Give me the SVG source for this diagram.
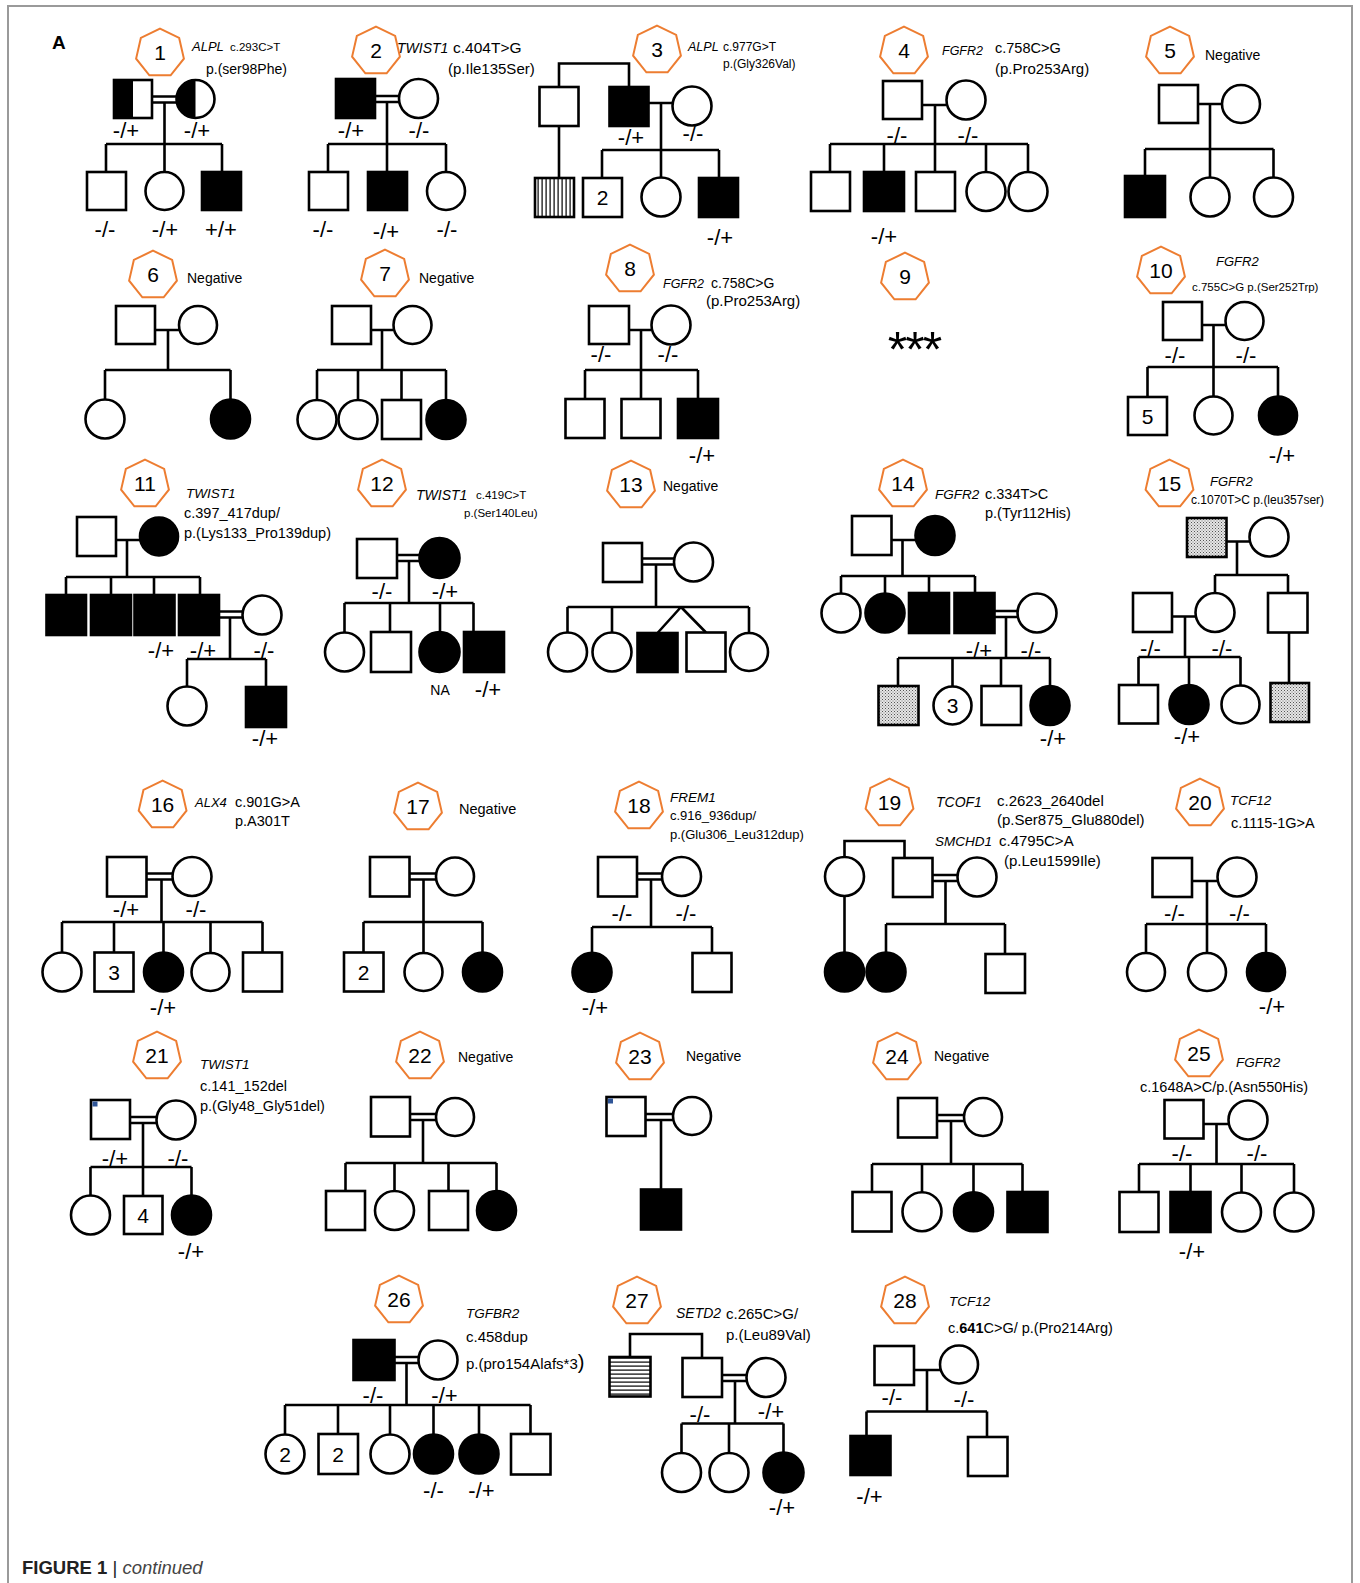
<svg xmlns="http://www.w3.org/2000/svg" width="1360" height="1583" viewBox="0 0 1360 1583">
<defs>
<style>
.ln{fill:none;stroke:#000;stroke-width:2.6}
.u{fill:#fff;stroke:#000;stroke-width:2.6}
.a{fill:#000;stroke:#000;stroke-width:2.6}
.hp{fill:none;stroke:#ED7D31;stroke-width:2}
.fr{fill:none;stroke:#9a9a9a;stroke-width:2}
text{font-family:"Liberation Sans",Arial,sans-serif;fill:#000}
.n{font-size:21px;text-anchor:middle}
.gt{font-size:22px;text-anchor:middle}
.m{font-size:14.5px}
.s{font-size:12px}
.g{font-size:13.5px;font-style:italic}
</style>
<polygon id="hep" class="hp" points="0,-24.5 19.15,-15.28 23.89,5.45 10.63,22.07 -10.63,22.07 -23.89,5.45 -19.15,-15.28"/>
<pattern id="vs" width="4" height="4" patternUnits="userSpaceOnUse"><rect width="4" height="4" fill="#fff"/><rect x="1.5" y="0" width="1.2" height="4" fill="#000"/></pattern>
<pattern id="hs" width="4" height="4" patternUnits="userSpaceOnUse"><rect width="4" height="4" fill="#fff"/><rect x="0" y="1.5" width="4" height="1.2" fill="#000"/></pattern>
<pattern id="dt" width="3" height="3" patternUnits="userSpaceOnUse"><rect width="3" height="3" fill="#e6e6e6"/><rect x="0" y="0" width="1" height="1" fill="#555"/><rect x="1.5" y="1.5" width="1" height="1" fill="#777"/></pattern>
</defs>
<rect width="1360" height="1583" fill="#fff"/>
<path class="fr" d="M8,1583V6H1352V1583"/>
<text x="52" y="49" style="font-size:19px;font-weight:bold">A</text>
<text x="22" y="1574" style="font-size:18.5px;fill:#222"><tspan font-weight="bold">FIGURE 1</tspan> | <tspan font-style="italic" fill="#444">continued</tspan></text>

<g id="connectors" class="ln">
<path d="M152,96.5H177M152,102.5H177M164.5,102.5V172M106,144H222M106,144V172M222,144V172"/>
<path d="M375,96H399M375,102H399M387,102V172M328,144H446M328,144V172M446,144V172"/>
<path d="M559,87V63.5H629V87M559,126V178M648.5,103H672.5M661,103V177.5M602,150H719M602,150V178M719,150V178"/>
<path d="M922,105H946.5M935,105V172M830,144H1028M830,144V172M884,144V172M986,144V172M1028,144V172"/>
<path d="M1198,104H1222M1210,104V177M1145,149H1273.5M1145,149V176M1273.5,149V177"/>
<path d="M155,330H179M168,330V370M105,370H230.5M105,370V399.5M230.5,370V399.5"/>
<path d="M371,330H393.5M382,330V370M317,370H446M317,370V400M358,370V400M401.5,370V400M446,370V400"/>
<path d="M629,330H651.5M641,330V399M585,370H698M585,370V399M698,370V399"/>
<path d="M1202,325H1225.5M1213.5,325V396M1147.5,367H1278M1147.5,367V397M1278,367V396"/>
<path d="M116,540H140M127,540V577M66,577H200M66,577V595M111,577V595M154,577V595M200,577V595M219,611.5H243M219,617.5H243M230,617.5V659M187,659H266M187,659V686.5M266,659V687"/>
<path d="M397,555H419.5M397,561H419.5M409,561V603M344.5,603H473.5M344.5,603V632.5M390,603V632M440,603V632M473.5,603V632"/>
<path d="M642,558.5H674M642,564.5H674M656,564.5V607M567.5,607H749M567.5,607V633M612,607V633M681,607L657.5,633M681,607L706,632.5M749,607V633"/>
<path d="M891.5,540H915.5M902.5,540V576M841,576H975M841,576V593.5M885,576V593.5M929,576V593M975,576V593M994.5,611H1018M994.5,617H1018M1006,617V658M898,658H1050M898,658V686M952.5,658V686M1001,658V686M1050,658V686"/>
<path d="M1226.5,541.5H1249.5M1237,541.5V575M1215,575H1288M1215,575V593M1288,575V593M1172,616.5H1195.5M1185,616.5V657M1138.5,657H1240.5M1138.5,657V685M1189,657V685M1240.5,657V685.5M1289,632.5V683"/>
<path d="M146.5,873.5H172.5M146.5,879.5H172.5M161.5,879.5V922M62,922H262.5M62,922V952.5M114,922V952.5M163.5,922V952.5M210.5,922V953M262.5,922V952.5"/>
<path d="M409.5,873.5H436M409.5,879.5H436M423.5,879.5V953M363.5,922H482.5M363.5,922V952.5M482.5,922V952.5"/>
<path d="M637,873.5H662M637,879.5H662M651,879.5V927M592,927H712M592,927V952.5M712,927V953"/>
<path d="M844.5,857V841H904.5V858M844.5,896.5V952.5M932.5,875H957.5M932.5,881H957.5M945.5,881V924M886,924H1005M886,924V952.5M1005,924V954"/>
<path d="M1192,881H1217.5M1207,881V953M1146,924H1266M1146,924V953M1266,924V953"/>
<path d="M130,1117H156.5M130,1123H156.5M143,1123V1196M90.5,1167H191.5M90.5,1167V1195.5M191.5,1167V1195.5"/>
<path d="M410,1114H436M410,1120H436M423,1120V1163M345.5,1163H496.5M345.5,1163V1191M394.5,1163V1191M448.5,1163V1191M496.5,1163V1191"/>
<path d="M645.5,1114H673M645.5,1120H673M661,1120V1189.5"/>
<path d="M937,1115H964M937,1121H964M951,1121V1164M872,1164H1022.5M872,1164V1192M922,1164V1192M973.5,1164V1192M1022.5,1164V1192"/>
<path d="M1203.5,1124H1228.5M1216.5,1124V1164M1139,1164H1294M1139,1164V1192M1190.5,1164V1192M1241.5,1164V1192.5M1294,1164V1192.5"/>
<path d="M394.5,1357H418.5M394.5,1363H418.5M406.5,1363V1405M285,1405H530.5M285,1405V1434.5M338,1405V1434M390,1405V1434.5M433.5,1405V1434.5M479,1405V1434.5M530.5,1405V1434"/>
<path d="M630,1357V1334H702V1358M722,1375H746.5M722,1381H746.5M735,1381V1423.5M681.5,1423.5H783.5M681.5,1423.5V1453M729,1423.5V1453M783.5,1423.5V1452.5"/>
<path d="M914,1370H940M927,1370V1411.5M866.5,1411.5H987M866.5,1411.5V1436M987,1411.5V1437"/>
</g>

<g id="ped1">
<g id="p1-id"><use href="#hep" x="160" y="53.2"/><text class="n" x="160" y="59.5">1</text><text class="g" x="192" y="51" style="font-size:13px">ALPL</text><text x="230" y="51" style="font-size:11.5px">c.293C&gt;T</text><text x="206" y="74" style="font-size:14px">p.(ser98Phe)</text></g>
<g id="p1-f"><rect class="u" x="114" y="80" width="38" height="38"/><rect x="114" y="80" width="19" height="38" fill="#000"/><text class="gt" x="126" y="138">-/+</text></g>
<g id="p1-m"><circle class="u" cx="195.5" cy="99" r="19"/><path d="M195.5,80A19,19 0 0 0 195.5,118Z" fill="#000"/><text class="gt" x="197" y="138">-/+</text></g>
<g id="p1-c1"><rect class="u" x="87" y="172" width="39" height="38"/><text class="gt" x="105" y="237">-/-</text></g>
<g id="p1-c2"><circle class="u" cx="164.5" cy="191" r="19"/><text class="gt" x="165" y="237">-/+</text></g>
<g id="p1-c3"><rect class="a" x="202" y="172" width="39" height="38"/><text class="gt" x="221" y="237">+/+</text></g>
</g>

<g id="ped2">
<g id="p2-id"><use href="#hep" x="376" y="51.2"/><text class="n" x="376" y="57.5">2</text><text class="g" x="397" y="53" style="font-size:14px">TWIST1</text><text x="453" y="53" style="font-size:15.5px">c.404T&gt;G</text><text x="448" y="74" style="font-size:15px">(p.Ile135Ser)</text></g>
<g id="p2-f"><rect class="a" x="336" y="79" width="39" height="39"/><text class="gt" x="351" y="138">-/+</text></g>
<g id="p2-m"><circle class="u" cx="418.5" cy="98.5" r="19.5"/><text class="gt" x="419" y="138">-/-</text></g>
<g id="p2-c1"><rect class="u" x="309" y="172" width="39" height="38"/><text class="gt" x="323" y="237">-/-</text></g>
<g id="p2-c2"><rect class="a" x="368" y="172" width="39" height="38"/><text class="gt" x="386" y="239">-/+</text></g>
<g id="p2-c3"><circle class="u" cx="446" cy="191" r="19"/><text class="gt" x="447" y="237">-/-</text></g>
</g>

<g id="ped3">
<g id="p3-id"><use href="#hep" x="657" y="50.2"/><text class="n" x="657" y="56.5">3</text><text class="g" x="688" y="51" style="font-size:12.5px">ALPL</text><text class="s" x="723" y="51">c.977G&gt;T</text><text class="s" x="723" y="68">p.(Gly326Val)</text></g>
<g id="p3-u"><rect class="u" x="539.5" y="87" width="39" height="39"/></g>
<g id="p3-f"><rect class="a" x="609.5" y="87" width="39" height="39"/><text class="gt" x="631" y="145">-/+</text></g>
<g id="p3-m"><circle class="u" cx="692" cy="106" r="19.5"/><text class="gt" x="693" y="141">-/-</text></g>
<g id="p3-cousin"><rect x="535" y="178" width="39" height="39" fill="url(#vs)" stroke="#000" stroke-width="2.6"/></g>
<g id="p3-c1"><rect class="u" x="583" y="178" width="39" height="39"/><text class="n" x="602.5" y="205">2</text></g>
<g id="p3-c2"><circle class="u" cx="661" cy="197" r="19.5"/></g>
<g id="p3-c3"><rect class="a" x="699" y="178" width="39" height="39"/><text class="gt" x="720" y="245">-/+</text></g>
</g>

<g id="ped4">
<g id="p4-id"><use href="#hep" x="904" y="51.2"/><text class="n" x="904" y="57.5">4</text><text class="g" x="942" y="55" style="font-size:12.5px">FGFR2</text><text x="995" y="53" style="font-size:14.5px">c.758C&gt;G</text><text x="995" y="74" style="font-size:15px">(p.Pro253Arg)</text></g>
<g id="p4-f"><rect class="u" x="883" y="81" width="39" height="38"/><text class="gt" x="897" y="143">-/-</text></g>
<g id="p4-m"><circle class="u" cx="966" cy="100" r="19.5"/><text class="gt" x="968" y="143">-/-</text></g>
<g id="p4-c1"><rect class="u" x="811" y="172" width="39" height="39"/></g>
<g id="p4-c2"><rect class="a" x="864" y="172" width="40" height="39"/><text class="gt" x="884" y="244">-/+</text></g>
<g id="p4-c3"><rect class="u" x="916" y="172" width="39" height="39"/></g>
<g id="p4-c4"><circle class="u" cx="986" cy="191.5" r="19.5"/></g>
<g id="p4-c5"><circle class="u" cx="1028" cy="191.5" r="19.5"/></g>
</g>

<g id="ped5">
<g id="p5-id"><use href="#hep" x="1170" y="51.2"/><text class="n" x="1170" y="57.5">5</text><text x="1205" y="60" style="font-size:14px">Negative</text></g>
<g id="p5-f"><rect class="u" x="1159" y="85" width="39" height="38"/></g>
<g id="p5-m"><circle class="u" cx="1241" cy="104" r="19"/></g>
<g id="p5-c1"><rect class="a" x="1125" y="176" width="40" height="41"/></g>
<g id="p5-c2"><circle class="u" cx="1210" cy="197" r="19.5"/></g>
<g id="p5-c3"><circle class="u" cx="1273.5" cy="197" r="19.5"/></g>
</g>

<g id="ped6">
<g id="p6-id"><use href="#hep" x="153" y="275.2"/><text class="n" x="153" y="281.5">6</text><text x="187" y="283" style="font-size:14px">Negative</text></g>
<g id="p6-f"><rect class="u" x="116" y="306" width="39" height="38"/></g>
<g id="p6-m"><circle class="u" cx="198" cy="325" r="19"/></g>
<g id="p6-c1"><circle class="u" cx="105" cy="419" r="19.5"/></g>
<g id="p6-c2"><circle class="a" cx="230.5" cy="419" r="19.5"/></g>
</g>

<g id="ped7">
<g id="p7-id"><use href="#hep" x="385" y="274.2"/><text class="n" x="385" y="280.5">7</text><text x="419" y="283" style="font-size:14px">Negative</text></g>
<g id="p7-f"><rect class="u" x="332" y="306" width="39" height="38"/></g>
<g id="p7-m"><circle class="u" cx="412.5" cy="325" r="19"/></g>
<g id="p7-c1"><circle class="u" cx="317" cy="419.5" r="19.5"/></g>
<g id="p7-c2"><circle class="u" cx="358" cy="419.5" r="19.5"/></g>
<g id="p7-c3"><rect class="u" x="382" y="400" width="39" height="39"/></g>
<g id="p7-c4"><circle class="a" cx="446" cy="419.5" r="19.5"/></g>
</g>

<g id="ped8">
<g id="p8-id"><use href="#hep" x="630" y="269.2"/><text class="n" x="630" y="275.5">8</text><text class="g" x="663" y="288" style="font-size:12.5px">FGFR2</text><text x="711" y="288" style="font-size:14px">c.758C&gt;G</text><text x="706" y="306" style="font-size:15px">(p.Pro253Arg)</text></g>
<g id="p8-f"><rect class="u" x="589" y="306" width="40" height="38"/><text class="gt" x="601" y="362">-/-</text></g>
<g id="p8-m"><circle class="u" cx="671" cy="325" r="19.5"/><text class="gt" x="668" y="362">-/-</text></g>
<g id="p8-c1"><rect class="u" x="565.5" y="399" width="39" height="39"/></g>
<g id="p8-c2"><rect class="u" x="621.5" y="399" width="39" height="39"/></g>
<g id="p8-c3"><rect class="a" x="678" y="399" width="40" height="39"/><text class="gt" x="702" y="463">-/+</text></g>
</g>

<g id="ped9">
<g id="p9-id"><use href="#hep" x="905" y="277.2"/><text class="n" x="905" y="283.5">9</text><text x="914" y="367" text-anchor="middle" style="font-size:50px;letter-spacing:-2px">***</text></g>
</g>

<g id="ped10">
<g id="p10-id"><use href="#hep" x="1161" y="271.2"/><text class="n" x="1161" y="277.5">10</text><text class="g" x="1216" y="266" style="font-size:13px">FGFR2</text><text x="1192" y="291" style="font-size:11.5px">c.755C&gt;G p.(Ser252Trp)</text></g>
<g id="p10-f"><rect class="u" x="1163" y="302" width="39" height="38"/><text class="gt" x="1175" y="363">-/-</text></g>
<g id="p10-m"><circle class="u" cx="1244.5" cy="321" r="19"/><text class="gt" x="1246" y="363">-/-</text></g>
<g id="p10-c1"><rect class="u" x="1128" y="397" width="39" height="38"/><text class="n" x="1147.5" y="423.5">5</text></g>
<g id="p10-c2"><circle class="u" cx="1213.5" cy="415.5" r="19"/></g>
<g id="p10-c3"><circle class="a" cx="1278" cy="415.5" r="19"/><text class="gt" x="1282" y="463">-/+</text></g>
</g>

<g id="ped11">
<g id="p11-id"><use href="#hep" x="145" y="484.2"/><text class="n" x="145" y="490.5">11</text><text class="g" x="186" y="498" style="font-size:13.5px">TWIST1</text><text class="m" x="184" y="518">c.397_417dup/</text><text class="m" x="184" y="538">p.(Lys133_Pro139dup)</text></g>
<g id="p11-f"><rect class="u" x="77" y="517" width="39" height="39"/></g>
<g id="p11-m"><circle class="a" cx="159" cy="536.5" r="19"/></g>
<g id="p11-c1"><rect class="a" x="46.5" y="595" width="39.5" height="40"/></g>
<g id="p11-c2"><rect class="a" x="91" y="595" width="40" height="40"/></g>
<g id="p11-c3"><rect class="a" x="134.5" y="595" width="40" height="40"/><text class="gt" x="161" y="658">-/+</text></g>
<g id="p11-c4"><rect class="a" x="179" y="595" width="40" height="40"/><text class="gt" x="203" y="658">-/+</text></g>
<g id="p11-w"><circle class="u" cx="262" cy="615" r="19.5"/><text class="gt" x="264" y="658">-/-</text></g>
<g id="p11-g1"><circle class="u" cx="187" cy="706" r="19.5"/></g>
<g id="p11-g2"><rect class="a" x="246" y="687" width="40" height="40"/><text class="gt" x="265" y="746">-/+</text></g>
</g>

<g id="ped12">
<g id="p12-id"><use href="#hep" x="382" y="484.2"/><text class="n" x="382" y="490.5">12</text><text class="g" x="416" y="500" style="font-size:14px">TWIST1</text><text x="476" y="499" style="font-size:11.5px">c.419C&gt;T</text><text x="464" y="517" style="font-size:11.5px">p.(Ser140Leu)</text></g>
<g id="p12-f"><rect class="u" x="357" y="539" width="40" height="39"/><text class="gt" x="382" y="599">-/-</text></g>
<g id="p12-m"><circle class="a" cx="439.5" cy="558" r="20"/><text class="gt" x="445" y="599">-/+</text></g>
<g id="p12-c1"><circle class="u" cx="344.5" cy="652" r="19.5"/></g>
<g id="p12-c2"><rect class="u" x="371" y="632" width="40" height="40"/></g>
<g id="p12-c3"><circle class="a" cx="439.5" cy="652" r="20"/><text x="440" y="695" text-anchor="middle" style="font-size:14px">NA</text></g>
<g id="p12-c4"><rect class="a" x="464" y="632" width="40" height="40"/><text class="gt" x="488" y="697">-/+</text></g>
</g>

<g id="ped13">
<g id="p13-id"><use href="#hep" x="631" y="485.2"/><text class="n" x="631" y="491.5">13</text><text x="663" y="491" style="font-size:14px">Negative</text></g>
<g id="p13-f"><rect class="u" x="603" y="543" width="39" height="39"/></g>
<g id="p13-m"><circle class="u" cx="693.5" cy="562" r="19.5"/></g>
<g id="p13-c1"><circle class="u" cx="567.5" cy="652" r="19.5"/></g>
<g id="p13-c2"><circle class="u" cx="612" cy="652" r="19.5"/></g>
<g id="p13-c3"><rect class="a" x="637.5" y="633" width="40" height="39"/></g>
<g id="p13-c4"><rect class="u" x="686.5" y="632.5" width="39" height="39"/></g>
<g id="p13-c5"><circle class="u" cx="749" cy="652" r="19"/></g>
</g>

<g id="ped14">
<g id="p14-id"><use href="#hep" x="903" y="484.2"/><text class="n" x="903" y="490.5">14</text><text class="g" x="935" y="499" style="font-size:13.5px">FGFR2</text><text class="m" x="985" y="499">c.334T&gt;C</text><text class="m" x="985" y="518">p.(Tyr112His)</text></g>
<g id="p14-f"><rect class="u" x="852" y="516" width="39.5" height="39"/></g>
<g id="p14-m"><circle class="a" cx="935" cy="535.5" r="19.5"/></g>
<g id="p14-c1"><circle class="u" cx="841" cy="613" r="19.5"/></g>
<g id="p14-c2"><circle class="a" cx="885" cy="613" r="19.5"/></g>
<g id="p14-c3"><rect class="a" x="909" y="593" width="40" height="40"/></g>
<g id="p14-c4"><rect class="a" x="954.5" y="593" width="40" height="40"/><text class="gt" x="979" y="658">-/+</text></g>
<g id="p14-w"><circle class="u" cx="1037" cy="613" r="19.5"/><text class="gt" x="1031" y="658">-/-</text></g>
<g id="p14-g1"><rect x="878.5" y="686" width="40" height="39" fill="url(#dt)" stroke="#000" stroke-width="2.6"/></g>
<g id="p14-g2"><circle class="u" cx="952.5" cy="705.5" r="19"/><text class="n" x="952.5" y="713">3</text></g>
<g id="p14-g3"><rect class="u" x="981.5" y="686" width="39.5" height="39"/></g>
<g id="p14-g4"><circle class="a" cx="1050" cy="705.5" r="19.5"/><text class="gt" x="1053" y="746">-/+</text></g>
</g>

<g id="ped15">
<g id="p15-id"><use href="#hep" x="1169.5" y="484.2"/><text class="n" x="1169.5" y="490.5">15</text><text class="g" x="1210" y="486" style="font-size:13px">FGFR2</text><text class="s" x="1191" y="504">c.1070T&gt;C p.(leu357ser)</text></g>
<g id="p15-f"><rect x="1187" y="518" width="39.5" height="39" fill="url(#dt)" stroke="#000" stroke-width="2.6"/></g>
<g id="p15-m"><circle class="u" cx="1269" cy="537" r="19.5"/></g>
<g id="p15-h"><rect class="u" x="1133" y="593" width="39" height="39"/><text class="gt" x="1150.5" y="656">-/-</text></g>
<g id="p15-c1"><circle class="u" cx="1215" cy="612.5" r="19.5"/><text class="gt" x="1222" y="656">-/-</text></g>
<g id="p15-c2"><rect class="u" x="1268" y="593" width="39.5" height="39.5"/></g>
<g id="p15-g1"><rect class="u" x="1119" y="685" width="39" height="38.5"/></g>
<g id="p15-g2"><circle class="a" cx="1189" cy="704.5" r="19.5"/><text class="gt" x="1187" y="744">-/+</text></g>
<g id="p15-g3"><circle class="u" cx="1240.5" cy="704.5" r="19"/></g>
<g id="p15-g4"><rect x="1270.5" y="683" width="38.5" height="39" fill="url(#dt)" stroke="#000" stroke-width="2.6"/></g>
</g>

<g id="ped16">
<g id="p16-id"><use href="#hep" x="162.6" y="805.2"/><text class="n" x="162.6" y="811.5">16</text><text class="g" x="195" y="807" style="font-size:13px">ALX4</text><text class="m" x="235" y="807">c.901G&gt;A</text><text class="m" x="235" y="826">p.A301T</text></g>
<g id="p16-f"><rect class="u" x="107" y="857" width="39.5" height="39.5"/><text class="gt" x="126" y="917">-/+</text></g>
<g id="p16-m"><circle class="u" cx="192" cy="876.5" r="19.5"/><text class="gt" x="196" y="917">-/-</text></g>
<g id="p16-c1"><circle class="u" cx="62" cy="972" r="19.5"/></g>
<g id="p16-c2"><rect class="u" x="94.5" y="952.5" width="39" height="39"/><text class="n" x="114" y="979.5">3</text></g>
<g id="p16-c3"><circle class="a" cx="163.5" cy="972" r="19.5"/><text class="gt" x="163" y="1015">-/+</text></g>
<g id="p16-c4"><circle class="u" cx="210.5" cy="972" r="19"/></g>
<g id="p16-c5"><rect class="u" x="243" y="952.5" width="39" height="39"/></g>
</g>

<g id="ped17">
<g id="p17-id"><use href="#hep" x="418" y="807.2"/><text class="n" x="418" y="813.5">17</text><text x="459" y="814" style="font-size:14.5px">Negative</text></g>
<g id="p17-f"><rect class="u" x="370" y="857" width="39.5" height="39.5"/></g>
<g id="p17-m"><circle class="u" cx="455" cy="876.5" r="19"/></g>
<g id="p17-c1"><rect class="u" x="344" y="952.5" width="39.5" height="39"/><text class="n" x="363.7" y="979.5">2</text></g>
<g id="p17-c2"><circle class="u" cx="423.5" cy="972" r="19"/></g>
<g id="p17-c3"><circle class="a" cx="482.5" cy="972" r="19.5"/></g>
</g>

<g id="ped18">
<g id="p18-id"><use href="#hep" x="639" y="806.2"/><text class="n" x="639" y="812.5">18</text><text class="g" x="670" y="802">FREM1</text><text x="670" y="820" style="font-size:13px">c.916_936dup/</text><text x="670" y="838.5" style="font-size:13px">p.(Glu306_Leu312dup)</text></g>
<g id="p18-f"><rect class="u" x="598" y="857" width="39" height="39.5"/><text class="gt" x="622" y="921">-/-</text></g>
<g id="p18-m"><circle class="u" cx="681.5" cy="876.5" r="19.5"/><text class="gt" x="686" y="921">-/-</text></g>
<g id="p18-c1"><circle class="a" cx="592" cy="972.3" r="19.5"/><text class="gt" x="595" y="1015">-/+</text></g>
<g id="p18-c2"><rect class="u" x="692.5" y="953" width="39" height="39"/></g>
</g>

<g id="ped19">
<g id="p19-id"><use href="#hep" x="889.5" y="803.2"/><text class="n" x="889.5" y="809.5">19</text><text class="g" x="936" y="807" style="font-size:14px">TCOF1</text><text x="997" y="806" style="font-size:15px">c.2623_2640del</text><text x="997" y="825" style="font-size:15px">(p.Ser875_Glu880del)</text><text class="g" x="935" y="846" style="font-size:13.5px">SMCHD1</text><text x="999" y="846" style="font-size:15px">c.4795C&gt;A</text><text x="1004" y="866" style="font-size:15px">(p.Leu1599Ile)</text></g>
<g id="p19-s"><circle class="u" cx="844.5" cy="876.5" r="19.5"/></g>
<g id="p19-f"><rect class="u" x="893" y="858" width="39.5" height="39"/></g>
<g id="p19-m"><circle class="u" cx="977" cy="877" r="19.5"/></g>
<g id="p19-c1"><circle class="a" cx="844.5" cy="972" r="19.5"/></g>
<g id="p19-c2"><circle class="a" cx="886" cy="972" r="19.5"/></g>
<g id="p19-c3"><rect class="u" x="985.5" y="954" width="39.5" height="39"/></g>
</g>

<g id="ped20">
<g id="p20-id"><use href="#hep" x="1200" y="803.2"/><text class="n" x="1200" y="809.5">20</text><text class="g" x="1230" y="805">TCF12</text><text class="m" x="1231" y="828">c.1115-1G&gt;A</text></g>
<g id="p20-f"><rect class="u" x="1152.5" y="858" width="39.5" height="39"/><text class="gt" x="1174.5" y="921">-/-</text></g>
<g id="p20-m"><circle class="u" cx="1237" cy="877" r="19.5"/><text class="gt" x="1239.5" y="921">-/-</text></g>
<g id="p20-c1"><circle class="u" cx="1146" cy="972" r="19"/></g>
<g id="p20-c2"><circle class="u" cx="1207" cy="972" r="19"/></g>
<g id="p20-c3"><circle class="a" cx="1266" cy="972" r="19"/><text class="gt" x="1272" y="1014">-/+</text></g>
</g>

<g id="ped21">
<g id="p21-id"><use href="#hep" x="157" y="1056.2"/><text class="n" x="157" y="1062.5">21</text><text class="g" x="200" y="1069">TWIST1</text><text class="m" x="200" y="1091">c.141_152del</text><text class="m" x="200" y="1111">p.(Gly48_Gly51del)</text></g>
<g id="p21-f"><rect class="u" x="91" y="1100" width="39" height="39"/><rect x="92.5" y="1101.5" width="5" height="5" fill="#2F5597"/><text class="gt" x="115" y="1166">-/+</text></g>
<g id="p21-m"><circle class="u" cx="176" cy="1120" r="19.5"/><text class="gt" x="178" y="1166">-/-</text></g>
<g id="p21-c1"><circle class="u" cx="90.5" cy="1215" r="19.5"/></g>
<g id="p21-c2"><rect class="u" x="124" y="1196" width="38.5" height="38"/><text class="n" x="143.2" y="1222.5">4</text></g>
<g id="p21-c3"><circle class="a" cx="191.5" cy="1215" r="19.5"/><text class="gt" x="191" y="1259">-/+</text></g>
</g>

<g id="ped22">
<g id="p22-id"><use href="#hep" x="420" y="1056.2"/><text class="n" x="420" y="1062.5">22</text><text x="458" y="1062" style="font-size:14px">Negative</text></g>
<g id="p22-f"><rect class="u" x="371" y="1097" width="39" height="39.5"/></g>
<g id="p22-m"><circle class="u" cx="455" cy="1117" r="19"/></g>
<g id="p22-c1"><rect class="u" x="326" y="1191" width="39" height="39"/></g>
<g id="p22-c2"><circle class="u" cx="394.5" cy="1210.5" r="19.5"/></g>
<g id="p22-c3"><rect class="u" x="429" y="1191" width="39" height="39"/></g>
<g id="p22-c4"><circle class="a" cx="496.5" cy="1210.5" r="19.5"/></g>
</g>

<g id="ped23">
<g id="p23-id"><use href="#hep" x="640" y="1057.2"/><text class="n" x="640" y="1063.5">23</text><text x="686" y="1061" style="font-size:14px">Negative</text></g>
<g id="p23-f"><rect class="u" x="606.5" y="1097" width="39" height="39"/><rect x="608" y="1098.5" width="5" height="5" fill="#2F5597"/></g>
<g id="p23-m"><circle class="u" cx="692" cy="1116" r="19"/></g>
<g id="p23-c1"><rect class="a" x="641" y="1189.5" width="40" height="40"/></g>
</g>

<g id="ped24">
<g id="p24-id"><use href="#hep" x="897" y="1057.2"/><text class="n" x="897" y="1063.5">24</text><text x="934" y="1061" style="font-size:14px">Negative</text></g>
<g id="p24-f"><rect class="u" x="898" y="1098" width="39" height="39.5"/></g>
<g id="p24-m"><circle class="u" cx="983" cy="1117" r="19"/></g>
<g id="p24-c1"><rect class="u" x="852.5" y="1192" width="39" height="39.5"/></g>
<g id="p24-c2"><circle class="u" cx="922" cy="1211.7" r="19.5"/></g>
<g id="p24-c3"><circle class="a" cx="973.5" cy="1211.7" r="19.5"/></g>
<g id="p24-c4"><rect class="a" x="1007.5" y="1192" width="40" height="40"/></g>
</g>

<g id="ped25">
<g id="p25-id"><use href="#hep" x="1199" y="1054.2"/><text class="n" x="1199" y="1060.5">25</text><text class="g" x="1236" y="1067">FGFR2</text><text class="m" x="1140" y="1092">c.1648A&gt;C/p.(Asn550His)</text></g>
<g id="p25-f"><rect class="u" x="1164.5" y="1100" width="39" height="38.5"/><text class="gt" x="1182" y="1161">-/-</text></g>
<g id="p25-m"><circle class="u" cx="1248" cy="1120" r="19.5"/><text class="gt" x="1257" y="1161">-/-</text></g>
<g id="p25-c1"><rect class="u" x="1119.5" y="1192" width="39" height="40"/></g>
<g id="p25-c2"><rect class="a" x="1170.5" y="1192" width="40" height="40"/><text class="gt" x="1192" y="1259">-/+</text></g>
<g id="p25-c3"><circle class="u" cx="1241.5" cy="1212" r="19.5"/></g>
<g id="p25-c4"><circle class="u" cx="1294" cy="1212" r="19.5"/></g>
</g>

<g id="ped26">
<g id="p26-id"><use href="#hep" x="399" y="1300.2"/><text class="n" x="399" y="1306.5">26</text><text class="g" x="466" y="1318" style="font-size:13.5px">TGFBR2</text><text x="466" y="1342" style="font-size:15px">c.458dup</text><text x="466" y="1369" style="font-size:15px">p.(pro154Alafs*3<tspan style="font-size:20px">)</tspan></text></g>
<g id="p26-f"><rect class="a" x="353.5" y="1340" width="41" height="40"/><text class="gt" x="373" y="1403">-/-</text></g>
<g id="p26-m"><circle class="u" cx="438" cy="1360" r="19.5"/><text class="gt" x="444.5" y="1403">-/+</text></g>
<g id="p26-c1"><circle class="u" cx="285" cy="1454" r="19.5"/><text class="n" x="285" y="1461.5">2</text></g>
<g id="p26-c2"><rect class="u" x="318.5" y="1434" width="39.5" height="40"/><text class="n" x="338.2" y="1461.5">2</text></g>
<g id="p26-c3"><circle class="u" cx="390" cy="1454" r="19.5"/></g>
<g id="p26-c4"><circle class="a" cx="433.5" cy="1454" r="19.5"/><text class="gt" x="433.5" y="1498">-/-</text></g>
<g id="p26-c5"><circle class="a" cx="479" cy="1454" r="19.5"/><text class="gt" x="481.5" y="1498">-/+</text></g>
<g id="p26-c6"><rect class="u" x="511" y="1434" width="39.5" height="40.5"/></g>
</g>

<g id="ped27">
<g id="p27-id"><use href="#hep" x="637" y="1301.2"/><text class="n" x="637" y="1307.5">27</text><text class="g" x="676" y="1318" style="font-size:14px">SETD2</text><text x="726" y="1319" style="font-size:15px">c.265C&gt;G/</text><text x="726" y="1340" style="font-size:15px">p.(Leu89Val)</text></g>
<g id="p27-u"><rect x="609.5" y="1357" width="41" height="39.5" fill="url(#hs)" stroke="#000" stroke-width="2.6"/></g>
<g id="p27-f"><rect class="u" x="682.5" y="1358" width="39.5" height="39"/><text class="gt" x="700" y="1422">-/-</text></g>
<g id="p27-m"><circle class="u" cx="766" cy="1377.5" r="19.5"/><text class="gt" x="771" y="1419">-/+</text></g>
<g id="p27-c1"><circle class="u" cx="681.5" cy="1472.5" r="19.5"/></g>
<g id="p27-c2"><circle class="u" cx="729" cy="1472.5" r="19.5"/></g>
<g id="p27-c3"><circle class="a" cx="783.5" cy="1472.5" r="20"/><text class="gt" x="782" y="1515">-/+</text></g>
</g>

<g id="ped28">
<g id="p28-id"><use href="#hep" x="905" y="1301.2"/><text class="n" x="905" y="1307.5">28</text><text class="g" x="949" y="1306">TCF12</text><text class="m" x="948" y="1333">c.<tspan font-weight="bold">641</tspan>C&gt;G/ p.(Pro214Arg)</text></g>
<g id="p28-f"><rect class="u" x="874.5" y="1346" width="39.5" height="39"/><text class="gt" x="892" y="1405">-/-</text></g>
<g id="p28-m"><circle class="u" cx="959" cy="1364.5" r="19"/><text class="gt" x="964" y="1407">-/-</text></g>
<g id="p28-c1"><rect class="a" x="850.5" y="1436" width="40" height="39"/><text class="gt" x="869.5" y="1504">-/+</text></g>
<g id="p28-c2"><rect class="u" x="968" y="1437" width="39.5" height="39"/></g>
</g>
</svg>
